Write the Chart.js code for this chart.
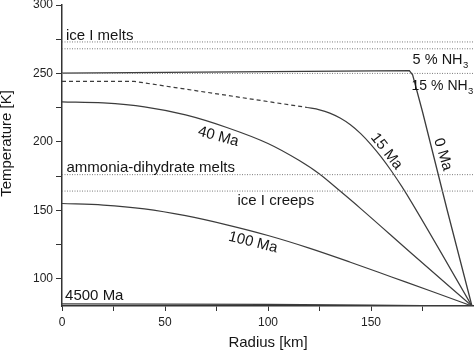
<!DOCTYPE html>
<html><head><meta charset="utf-8">
<script src="https://cdn.jsdelivr.net/npm/chart.js@4/dist/chart.umd.min.js"></script>
<style>html,body{margin:0;padding:0;background:#fff;}</style>
</head><body>
<canvas id="c" width="474" height="352"></canvas>
<script>
// ---- data (radius in km, temperature in K) ----
const r0Ma = [0, 168.6, 170.2, 175, 187, 199];
const t0Ma = [250.2, 252.1, 249, 222, 150, 80];

const r15MaConv = [0, 35, 119];
const t15MaConv = [244.2, 244.2, 225.1];
const r15Ma = [119, 125, 130, 135, 140, 145, 150, 155, 160, 165, 170, 199];
const t15Ma = [225.1, 223.4, 221.0, 217.4, 212.5, 206.0, 198.0, 188.8, 178.5, 167.2, 155.0, 80];

const r40Ma = [0, 20, 40, 60, 80, 100, 115, 125, 135, 145, 170, 199];
const t40Ma = [229.2, 228.4, 225.6, 219.7, 210.5, 198.8, 186.5, 176.5, 164.0, 151.2, 118.0, 80];

const r100Ma = [0, 20, 40, 60, 80, 100, 120, 140, 160, 180, 199];
const t100Ma = [154.9, 153.8, 151.0, 146.0, 139.3, 131.5, 122.3, 112.0, 101.2, 90.4, 80];

const r4500Ma = [0, 100, 150, 199];
const t4500Ma = [81.6, 81.2, 80.7, 80];

const levelValues = [273, 268, 250, 176, 164];   // dotted reference temperatures
const xTickValues = [0, 50, 100, 150];
const yTickValues = [100, 150, 200, 250, 300];

const curveLabels = ['0 Ma', '15 Ma', '40 Ma', '100 Ma', '4500 Ma'];
const levelLabels = ['ice I melts', '5 % NH', '15 % NH', 'ammonia-dihydrate melts', 'ice I creeps'];
const subscriptText = '3';
const xTitle = 'Radius [km]';
const yTitle = 'Temperature [K]';

// ---- layout / styles (positions in data units) ----
const FONT = '"Liberation Sans", Arial, Helvetica, sans-serif';
const TEXT = '#151515';
const LINE = '#3c3c3c';
const labelPlacement = {
  '0 Ma':   {x: 184.9, y: 190.8, rot: 73, align: 'center', base: 'middle', size: 15},
  '15 Ma':  {x: 157.5, y: 193.0, rot: 52, align: 'center', base: 'middle', size: 15},
  '40 Ma':  {x: 75.9,  y: 203.7, rot: 15, align: 'center', base: 'middle', size: 15},
  '100 Ma': {x: 92.7,  y: 126.4, rot: 14, align: 'center', base: 'middle', size: 15},
  '4500 Ma':{x: 1.5,   y: 84.4,  rot: 0,  align: 'left', base: 'alphabetic', size: 15},
  'ice I melts': {x: 1.9, y: 274.4, rot: 0, align: 'left', base: 'alphabetic', size: 15},
  '5 % NH': {x: 170.2, y: 256.9, rot: 0, align: 'left', base: 'alphabetic', size: 14.5, sub: true},
  '15 % NH': {x: 169.7, y: 237.9, rot: 0, align: 'left', base: 'alphabetic', size: 14, sub: true},
  'ammonia-dihydrate melts': {x: 2.2, y: 177.6, rot: 0, align: 'left', base: 'alphabetic', size: 15},
  'ice I creeps': {x: 85.2, y: 153.8, rot: 0, align: 'left', base: 'alphabetic', size: 15}
};

function pts(rs, ts) { return rs.map((r, i) => ({x: r, y: ts[i]})); }

const datasets = [];
levelValues.forEach(v => {
  datasets.push({data: pts([0, 200], [v, v]), borderColor: '#7a7a7a', borderWidth: 1,
    borderDash: [1, 1.5], pointRadius: 0, tension: 0});
});
datasets.push({data: pts(r4500Ma, t4500Ma), borderColor: LINE, borderWidth: 1.2, pointRadius: 0, tension: 0});
datasets.push({data: pts(r100Ma, t100Ma), borderColor: LINE, borderWidth: 1.2, pointRadius: 0, cubicInterpolationMode: 'monotone'});
datasets.push({data: pts(r40Ma, t40Ma), borderColor: LINE, borderWidth: 1.2, pointRadius: 0, cubicInterpolationMode: 'monotone'});
datasets.push({data: pts(r15MaConv, t15MaConv), borderColor: LINE, borderWidth: 1.2, borderDash: [4, 3], pointRadius: 0, tension: 0});
datasets.push({data: pts(r15Ma, t15Ma), borderColor: LINE, borderWidth: 1.2, pointRadius: 0, cubicInterpolationMode: 'monotone'});
datasets.push({data: pts(r0Ma, t0Ma), borderColor: LINE, borderWidth: 1.3, pointRadius: 0, tension: 0});

const textPlugin = {
  id: 'texts',
  afterDatasetsDraw(chart) {
    const ctx = chart.ctx, xs = chart.scales.x, ys = chart.scales.y;
    ctx.save();
    ctx.fillStyle = TEXT;
    curveLabels.concat(levelLabels).forEach(t => {
      const p = labelPlacement[t];
      const px = xs.getPixelForValue(p.x), py = ys.getPixelForValue(p.y);
      ctx.save();
      ctx.translate(px, py);
      ctx.rotate(p.rot * Math.PI / 180);
      ctx.textAlign = p.align; ctx.textBaseline = p.base;
      ctx.font = p.size + 'px ' + FONT;
      ctx.fillText(t, 0, 0);
      if (p.sub) {
        const w = ctx.measureText(t).width;
        ctx.font = '9.5px ' + FONT;
        ctx.textAlign = 'left';
        ctx.fillText(subscriptText, w + 0.5, 4);
      }
      ctx.restore();
    });
    // y axis title
    ctx.save();
    ctx.translate(7, 143.5);
    ctx.rotate(-Math.PI / 2);
    ctx.textAlign = 'center'; ctx.textBaseline = 'middle';
    ctx.font = '15px ' + FONT;
    ctx.fillText(yTitle, 0, 0);
    ctx.restore();
    ctx.restore();
  }
};

new Chart(document.getElementById('c'), {
  type: 'line',
  data: {datasets},
  plugins: [textPlugin],
  options: {
    responsive: false,
    devicePixelRatio: 1,
    animation: false,
    layout: {padding: {top: 5, right: 0, bottom: 0, left: 0}},
    plugins: {legend: {display: false}, tooltip: {enabled: false}},
    scales: {
      x: {
        type: 'linear', min: 0, max: 200,
        afterFit(s) { s.height = 46; s.paddingLeft = 0; s.paddingRight = 0; },
        ticks: {stepSize: 25, autoSkip: false, maxRotation: 0, padding: 4, color: '#222',
          font: {size: 12, family: FONT},
          callback: v => xTickValues.includes(v) ? String(v) : ''},
        grid: {drawOnChartArea: false, tickLength: 5, tickColor: '#333', tickWidth: 1},
        border: {color: '#333', width: 1.5},
        title: {display: true, text: xTitle, color: TEXT, font: {size: 15, family: FONT},
          padding: {top: 0, bottom: 0}}
      },
      y: {
        min: 80, max: 300,
        afterFit(s) { s.width = 62; s.paddingTop = 0; s.paddingBottom = 0; },
        ticks: {stepSize: 25, includeBounds: false, autoSkip: false, padding: 3, color: '#222',
          font: {size: 12, family: FONT},
          callback: v => yTickValues.includes(v) ? String(v) : ''},
        grid: {drawOnChartArea: false, tickLength: 6, tickColor: '#333', tickWidth: 1},
        border: {color: '#333', width: 1.5}
      }
    }
  }
});
</script>
</body></html>
